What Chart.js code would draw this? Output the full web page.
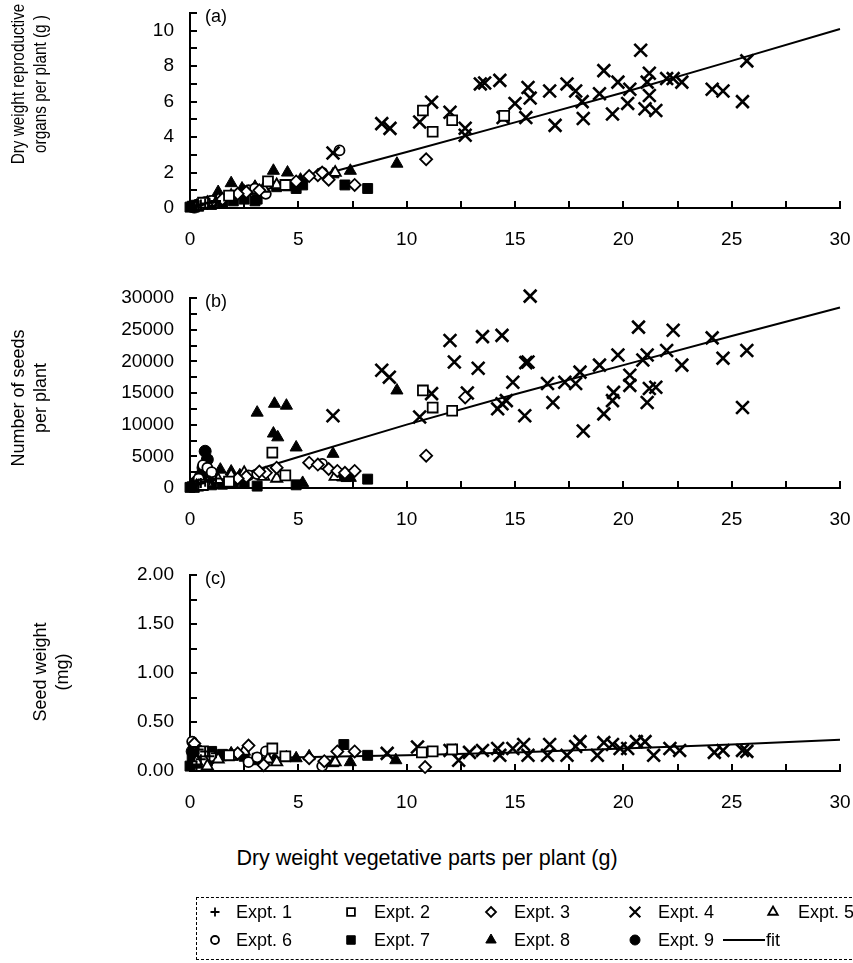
<!DOCTYPE html>
<html>
<head>
<meta charset="utf-8">
<script src="https://cdn.jsdelivr.net/npm/chart.js@4"></script>
<style>
  html,body{margin:0;padding:0;background:#fff;}
  body{width:853px;height:963px;position:relative;overflow:hidden;font-family:"Liberation Sans",Arial,sans-serif;}
  canvas{position:absolute;left:0;}
  #legend{position:absolute;left:196px;top:897px;width:656px;height:63px;border:1px dashed #000;border-right:none;box-sizing:border-box;}
  .lt{position:absolute;font-size:18px;color:#000;line-height:18px;white-space:nowrap;}
  #xtitle{position:absolute;left:127px;width:600px;top:847px;text-align:center;font-size:21.5px;line-height:22px;color:#000;white-space:nowrap;}
  .yt{position:absolute;width:220px;height:44px;line-height:22px;text-align:center;color:#000;white-space:nowrap;transform-origin:50% 50%;}
</style>
</head>
<body>
<canvas id="ca" width="853" height="262" style="top:0px"></canvas>
<canvas id="cb" width="853" height="268" style="top:262px"></canvas>
<canvas id="cc" width="853" height="300" style="top:530px"></canvas>
<div id="xtitle"></div>
<div id="legend"><canvas id="lg" width="656" height="63" style="top:0;left:0"></canvas></div>
<script>
// ---------- tick / axis settings ----------
const X_MIN = 0, X_MAX = 30, X_STEP = 2.5, X_LABEL_EVERY = 5;
const A_MAX = 11, A_STEP = 1, A_LABEL_EVERY = 2, A_LABEL_MAX = 10;
const B_MAX = 30000, B_STEP = 2500, B_LABEL_EVERY = 5000;
const C_MAX = 2, C_STEP = 0.25, C_LABEL_EVERY = 0.5;

const SERIES_NAMES = ["Expt. 1","Expt. 2","Expt. 3","Expt. 4","Expt. 5","Expt. 6","Expt. 7","Expt. 8","Expt. 9"];
const FIT_NAME = "fit";
const X_TITLE = "Dry weight vegetative parts per plant (g)";
const A_TITLE = ["Dry weight reproductive","organs per plant (g )"];
const B_TITLE = ["Number of seeds","per plant"];
const C_TITLE = ["Seed weight","(mg)"];

// ---------- panel (a): dry weight reproductive organs (g) ----------
const A_E1 = [[0.1,0.05],[0.2,0.1],[0.3,0.12],[0.4,0.15],[0.5,0.2],[0.7,0.25],[0.9,0.3],[1.2,0.4]];
const A_E2 = [[10.75,5.5],[11.2,4.3],[12.1,4.95],[14.5,5.2],[4.4,1.3],[3.6,1.5],[1.8,0.7],[0.6,0.3]];
const A_E3 = [[10.9,2.75],[7.6,1.3],[6.4,1.6],[5.9,1.85],[6.1,2.0],[5.5,1.8],[4.9,1.5],[3.2,1.0],[2.6,0.9],[2.2,0.8],[1.5,0.5]];
const A_E4 = [[6.6,3.1],[8.85,4.76],[9.23,4.49],[10.6,4.85],[11.15,5.97],[12.0,5.4],[12.7,4.5],[12.7,4.1],[13.4,7.0],[13.6,7.05],[14.3,7.2],[14.45,5.1],[15.0,5.9],[15.5,5.1],[15.6,6.8],[15.7,6.2],[16.6,6.6],[16.85,4.66],[17.4,7.0],[17.8,6.6],[18.1,6.0],[18.15,5.05],[18.9,6.45],[19.1,7.75],[19.5,5.3],[19.75,7.1],[20.2,5.9],[20.3,6.7],[20.8,8.9],[21.0,5.6],[21.1,7.1],[21.2,7.6],[21.2,6.35],[21.5,5.5],[22.0,7.3],[22.3,7.3],[22.7,7.1],[24.1,6.7],[24.6,6.6],[25.5,6.0],[25.7,8.3]];
const A_E5 = [[0.3,0.1],[0.8,0.3],[1.3,0.5],[1.9,0.7],[2.5,0.9],[3.4,1.1],[4.0,1.3],[6.7,2.0]];
const A_E6 = [[6.9,3.25],[6.1,2.0],[3.5,0.8],[2.7,1.0],[3.0,1.1],[2.0,0.7],[1.0,0.4],[0.5,0.2]];
const A_E7 = [[0,0.05],[0.1,0.1],[0.2,0.05],[0.4,0.1],[0.6,0.2],[1.0,0.2],[1.5,0.3],[2.0,0.4],[2.5,0.5],[3.0,0.4],[3.1,0.5],[4.0,1.2],[4.5,1.25],[4.9,1.1],[5.2,1.3],[7.15,1.3],[8.2,1.1]];
const A_E8 = [[1.3,0.9],[1.9,1.4],[2.4,1.1],[3.0,1.2],[3.85,2.1],[4.5,2.0],[5.1,1.6],[6.6,1.9],[7.4,2.1],[9.55,2.5]];
const A_E9 = [[0.1,0.1],[0.2,0.05],[0.3,0.15],[0.5,0.2],[0.7,0.3],[0.9,0.35]];
const A_FIT = [[0,0],[2.5,0.73],[5,1.52],[10,3.16],[15,4.83],[20,6.52],[25,8.3],[30,10.1]];

// ---------- panel (b): number of seeds per plant ----------
const B_E1 = [[0.1,200],[0.2,400],[0.3,600],[0.4,700],[0.5,800],[0.7,1000],[0.9,1200],[1.2,1500]];
const B_E2 = [[10.75,15400],[11.2,12700],[12.1,12200],[3.8,5600],[4.4,2000],[1.8,1000],[0.6,500]];
const B_E3 = [[10.9,5100],[12.7,14300],[5.5,4000],[5.9,3700],[6.4,3000],[6.8,2700],[7.15,2400],[7.6,2700],[4.0,3200],[3.5,2400],[3.2,2600],[2.6,1800],[2.2,1500]];
const B_E4 = [[6.6,11400],[8.85,18600],[9.2,17500],[10.6,11200],[11.15,14900],[12.0,23300],[12.2,19900],[12.8,15000],[13.3,18900],[13.5,23900],[14.4,24100],[14.2,12500],[14.4,13300],[14.6,13800],[14.9,16700],[15.45,11400],[15.5,19800],[15.6,19900],[15.7,30300],[16.5,16500],[16.75,13500],[17.3,16700],[17.8,16500],[18.0,18300],[18.15,9000],[18.9,19400],[19.1,11700],[19.5,13800],[19.55,15100],[19.75,21000],[20.3,17800],[20.3,16200],[20.7,25400],[20.9,20200],[21.1,21000],[21.1,13500],[21.2,15700],[21.5,15900],[22.0,21700],[22.3,24900],[22.7,19400],[24.1,23700],[24.6,20500],[25.5,12700],[25.7,21700]];
const B_E5 = [[0.3,300],[0.8,800],[1.3,1300],[1.9,2000],[2.5,2400],[3.4,1800],[4.0,1500],[6.7,1800]];
const B_E6 = [[0.4,1500],[0.6,3600],[0.8,3200],[1.0,2500],[2.7,2000],[3.1,2200],[6.1,3800]];
const B_E7 = [[0,100],[0.1,200],[0.2,100],[0.4,300],[0.6,400],[1.0,500],[1.5,600],[2.0,700],[2.5,900],[3.1,300],[4.9,500],[7.0,1900],[7.2,1800],[8.2,1400]];
const B_E8 = [[0.9,1500],[1.4,2900],[1.9,2600],[2.3,2000],[3.1,11900],[3.85,8600],[3.9,13300],[4.05,8000],[4.45,13000],[4.9,6400],[5.2,800],[6.6,5400],[7.4,1600],[9.55,15400]];
const B_E9 = [[0.3,1000],[0.5,2000],[0.6,3200],[0.7,5800],[0.8,4500],[0.9,2500]];
const B_FIT = [[0,0],[2.5,2300],[5,4900],[10,10000],[15,14800],[20,19400],[25,24000],[30,28500]];

// ---------- panel (c): seed weight (mg) ----------
const C_E1 = [[0.1,0.1],[0.2,0.15],[0.3,0.05],[0.4,0.22],[0.5,0.12],[0.7,0.2],[0.9,0.15],[1.2,0.18]];
const C_E2 = [[0.6,0.2],[1.8,0.16],[3.8,0.23],[4.4,0.15],[10.7,0.19],[11.2,0.2],[12.1,0.22]];
const C_E3 = [[0.2,0.28],[2.2,0.18],[2.7,0.26],[3.4,0.06],[5.5,0.13],[6.2,0.1],[6.8,0.2],[7.6,0.2],[10.85,0.04]];
const C_E4 = [[9.1,0.18],[10.5,0.245],[12.0,0.21],[12.4,0.11],[12.9,0.19],[13.5,0.21],[14.2,0.23],[14.3,0.16],[14.9,0.23],[15.4,0.27],[15.6,0.16],[16.5,0.16],[16.6,0.27],[17.4,0.16],[17.8,0.25],[18.0,0.3],[18.8,0.16],[19.1,0.29],[19.5,0.27],[19.85,0.23],[20.2,0.23],[20.6,0.3],[21.0,0.3],[21.4,0.16],[22.15,0.23],[22.6,0.21],[24.2,0.19],[24.6,0.21],[25.5,0.21],[25.7,0.2]];
const C_E5 = [[0.3,0.1],[0.8,0.05],[1.3,0.12],[1.9,0.15],[2.5,0.2],[3.6,0.12],[4.0,0.09],[6.7,0.09]];
const C_E6 = [[0.1,0.3],[0.6,0.1],[1.0,0.15],[2.7,0.09],[3.1,0.14],[3.5,0.2],[6.1,0.05]];
const C_E7 = [[0,0.05],[0.1,0.12],[0.2,0.18],[0.3,0.21],[0.4,0.08],[0.6,0.15],[0.8,0.1],[1.0,0.2],[1.5,0.17],[2.0,0.16],[2.5,0.15],[3.1,0.13],[7.1,0.27],[8.2,0.16]];
const C_E8 = [[1.4,0.14],[1.9,0.18],[3.1,0.1],[3.9,0.12],[4.45,0.14],[4.9,0.13],[5.5,0.15],[6.6,0.08],[7.4,0.09],[9.5,0.11]];
const C_E9 = [[0.1,0.2],[0.2,0.25],[0.3,0.15],[0.5,0.1],[0.7,0.18],[0.9,0.12]];
const C_FIT = [[0,0.12],[5,0.14],[10,0.16],[15,0.19],[20,0.23],[25,0.27],[30,0.32]];

// ---------- styles ----------
const FONT = '"Liberation Sans", Arial, sans-serif';
const TICK_FONT = {family:FONT, size:19};
const MARK = [
  {pointStyle:'cross',    radius:5,   fill:'rgba(0,0,0,0)', bw:2},
  {pointStyle:'rect',     radius:7,   fill:'#fff', bw:1.8},
  {pointStyle:'rectRot',  radius:6,   fill:'#fff', bw:1.8},
  {pointStyle:'crossRot', radius:9,   fill:'rgba(0,0,0,0)', bw:2.6},
  {pointStyle:'triangle', radius:6.5, fill:'#fff', bw:1.8},
  {pointStyle:'circle',   radius:5,   fill:'#fff', bw:1.8},
  {pointStyle:'rect',     radius:7,   fill:'#000', bw:1},
  {pointStyle:'triangle', radius:7,   fill:'#000', bw:1},
  {pointStyle:'circle',   radius:6,   fill:'#000', bw:1}
];

const toXY = arr => arr.map(p => ({x:p[0], y:p[1]}));

function makeDatasets(series, fit){
  const ds = series.map((s,i) => ({
    label: SERIES_NAMES[i], data: toXY(s),
    pointStyle: MARK[i].pointStyle, pointRadius: MARK[i].radius, pointHoverRadius: MARK[i].radius,
    backgroundColor: MARK[i].fill, borderColor:'#000', pointBorderWidth: MARK[i].bw, borderWidth: MARK[i].bw,
    showLine:false, clip:false
  }));
  ds.push({label: FIT_NAME, data: toXY(fit), showLine:true, pointRadius:0, borderColor:'#000', borderWidth:2, fill:false, tension:0, clip:false});
  return ds;
}

const inwardTicks = {
  id:'inwardTicks',
  afterDatasetsDraw(chart, args, opts){
    const {ctx, chartArea} = chart; const x = chart.scales.x, y = chart.scales.y;
    ctx.save();
    ctx.strokeStyle='#000'; ctx.lineWidth=2;
    ctx.beginPath();
    y.ticks.forEach(t => { const py = Math.round(y.getPixelForValue(t.value)); ctx.moveTo(chartArea.left, py); ctx.lineTo(chartArea.left+7, py); });
    x.ticks.forEach(t => { const px = Math.round(x.getPixelForValue(t.value)); ctx.moveTo(px, chartArea.bottom); ctx.lineTo(px, chartArea.bottom-7); });
    ctx.stroke();
    ctx.fillStyle='#000'; ctx.font='18px '+FONT; ctx.textBaseline='middle'; ctx.textAlign='left';
    ctx.fillText(opts.label, chartArea.left+15, chartArea.top+4);
    ctx.restore();
  }
};

function isMultiple(v, m){ const r = v/m; return Math.abs(r-Math.round(r)) < 1e-9; }

function makeChart(id, cfg){
  return new Chart(document.getElementById(id), {
    type:'scatter',
    data:{datasets: makeDatasets(cfg.series, cfg.fit)},
    plugins:[inwardTicks],
    options:{
      responsive:false, animation:false, devicePixelRatio:1,
      layout:{padding:{left:0, right:13, top:cfg.padTop, bottom:0}},
      plugins:{legend:{display:false}, tooltip:{enabled:false}, inwardTicks:{label:cfg.label}},
      scales:{
        x:{type:'linear', min:X_MIN, max:X_MAX,
           grid:{display:false, drawTicks:false},
           border:{display:true, color:'#000', width:2},
           ticks:{stepSize:X_STEP, autoSkip:false, maxRotation:0, padding:20, color:'#000', font:TICK_FONT,
                  callback:v => isMultiple(v, X_LABEL_EVERY) ? String(v) : ''},
           afterFit(s){ s.height = cfg.xHeight; s.paddingLeft = 0; s.paddingRight = 0; }
        },
        y:{type:'linear', min:0, max:cfg.yMax,
           grid:{display:false, drawTicks:false},
           border:{display:true, color:'#000', width:2},
           ticks:{stepSize:cfg.yStep, autoSkip:false, padding:16, color:'#000', font:TICK_FONT,
                  callback:cfg.yCb},
           title:{display:false},
           afterFit(s){ s.width = 190; s.paddingTop = 0; s.paddingBottom = 0; }
        }
      }
    }
  });
}

// rotated y-axis titles (real HTML text); squeeze = compression along the text direction
function yTitle(lines, cx, cy, size, squeeze){
  const d = document.createElement('div'); d.className='yt';
  d.style.left = (cx-110)+'px'; d.style.top = (cy-22)+'px'; d.style.fontSize = size+'px';
  d.style.transform = 'rotate(-90deg) scaleX(' + squeeze + ')';
  lines.forEach((t,i) => { if(i) d.appendChild(document.createElement('br')); d.appendChild(document.createTextNode(t)); });
  document.body.appendChild(d);
}

makeChart('ca', {
  series:[A_E1,A_E2,A_E3,A_E4,A_E5,A_E6,A_E7,A_E8,A_E9], fit:A_FIT, label:'(a)',
  padTop:13, xHeight:54, yMax:A_MAX, yStep:A_STEP,
  yCb:v => (isMultiple(v, A_LABEL_EVERY) && v <= A_LABEL_MAX) ? String(v) : ''
});
makeChart('cb', {
  series:[B_E1,B_E2,B_E3,B_E4,B_E5,B_E6,B_E7,B_E8,B_E9], fit:B_FIT, label:'(b)',
  padTop:36, xHeight:42, yMax:B_MAX, yStep:B_STEP,
  yCb:v => isMultiple(v, B_LABEL_EVERY) ? String(v) : ''
});
makeChart('cc', {
  series:[C_E1,C_E2,C_E3,C_E4,C_E5,C_E6,C_E7,C_E8,C_E9], fit:C_FIT, label:'(c)',
  padTop:45, xHeight:59, yMax:C_MAX, yStep:C_STEP,
  yCb:v => isMultiple(v, C_LABEL_EVERY) ? v.toFixed(2) : ''
});
yTitle(A_TITLE, 29, 84, 18, 0.85);
yTitle(B_TITLE, 29, 398, 18, 1);
yTitle(C_TITLE, 51, 672, 18, 1);
document.getElementById('xtitle').textContent = X_TITLE;

// ---------- legend ----------
(function(){
  const lg = document.getElementById('legend');
  const cv = document.getElementById('lg'); const ctx = cv.getContext('2d');
  const colMarkX = [18, 154, 294, 438, 576];
  const colTextX = [39, 177, 317, 461, 601];
  const rowY = [14, 42];
  const legendMarks = [
    {style:'cross',r:4.5,fill:null,bw:1.8},{style:'rect',r:5.5,fill:'#fff',bw:1.8},{style:'rectRot',r:5,fill:'#fff',bw:1.8},
    {style:'crossRot',r:7.5,fill:null,bw:2.2},{style:'triangle',r:5.5,fill:'#fff',bw:1.8},{style:'circle',r:4,fill:'#fff',bw:1.8},
    {style:'rect',r:6,fill:'#000',bw:1},{style:'triangle',r:6,fill:'#000',bw:1},{style:'circle',r:5,fill:'#000',bw:1}
  ];
  function drawMark(m, x, y){
    ctx.save(); ctx.strokeStyle='#000'; ctx.lineWidth=m.bw; ctx.beginPath();
    const r=m.r;
    if(m.style==='cross'){ ctx.moveTo(x-r,y); ctx.lineTo(x+r,y); ctx.moveTo(x,y-r); ctx.lineTo(x,y+r); ctx.stroke(); }
    else if(m.style==='crossRot'){ const d=r*Math.SQRT1_2; ctx.moveTo(x-d,y-d); ctx.lineTo(x+d,y+d); ctx.moveTo(x-d,y+d); ctx.lineTo(x+d,y-d); ctx.stroke(); }
    else {
      if(m.style==='rect'){ const s=r*Math.SQRT1_2; ctx.rect(x-s,y-s,2*s,2*s); }
      else if(m.style==='rectRot'){ ctx.moveTo(x,y-r); ctx.lineTo(x+r,y); ctx.lineTo(x,y+r); ctx.lineTo(x-r,y); ctx.closePath(); }
      else if(m.style==='triangle'){ const h=r*Math.cos(Math.PI/6); ctx.moveTo(x,y-r); ctx.lineTo(x+h,y+r/2); ctx.lineTo(x-h,y+r/2); ctx.closePath(); }
      else if(m.style==='circle'){ ctx.arc(x,y,r,0,Math.PI*2); }
      ctx.fillStyle=m.fill; ctx.fill(); ctx.stroke();
    }
    ctx.restore();
  }
  SERIES_NAMES.forEach((name,i) => {
    const row = i<5 ? 0 : 1, col = i<5 ? i : i-5;
    drawMark(legendMarks[i], colMarkX[col], rowY[row]);
    const s = document.createElement('span'); s.className='lt'; s.textContent=name;
    s.style.left = colTextX[col]+'px'; s.style.top = (rowY[row]-9)+'px'; lg.appendChild(s);
  });
  ctx.strokeStyle='#000'; ctx.lineWidth=2; ctx.beginPath(); ctx.moveTo(526, rowY[1]); ctx.lineTo(568, rowY[1]); ctx.stroke();
  const f = document.createElement('span'); f.className='lt'; f.textContent=FIT_NAME;
  f.style.left='569px'; f.style.top=(rowY[1]-9)+'px'; lg.appendChild(f);
})();
</script>
</body>
</html>
